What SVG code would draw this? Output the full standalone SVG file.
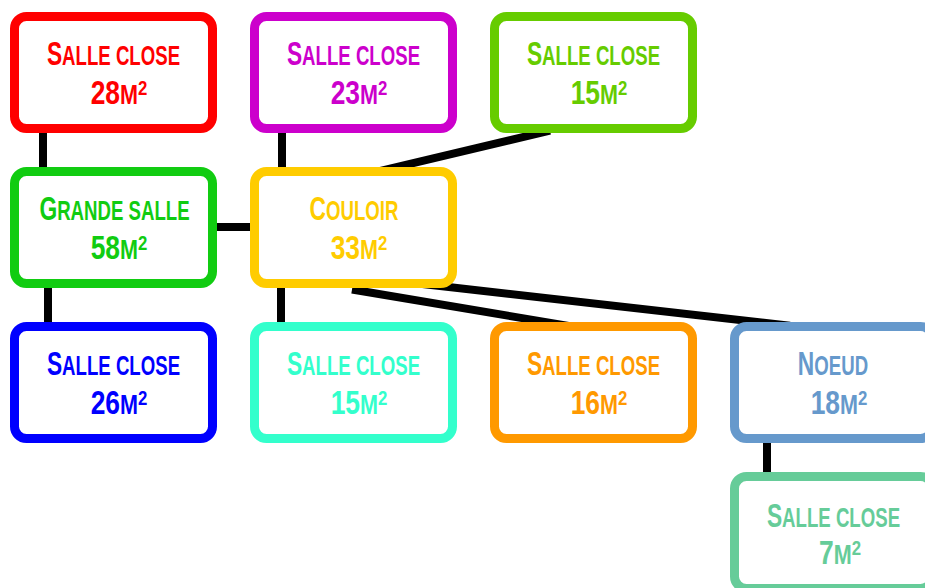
<svg xmlns="http://www.w3.org/2000/svg" width="925" height="588" viewBox="0 0 925 588">
<style>
.box{fill:#fff;stroke-width:9}
.t{font-family:"Liberation Sans",Arial,sans-serif;font-weight:bold;font-size:33px;text-anchor:middle}
.sc{font-size:27px;text-transform:uppercase}
.sup{font-size:21px}
.c line{stroke:#000;stroke-width:8}
</style>
<rect width="925" height="588" fill="#fff"/>
<g class="c" id="connectors">
<line x1="43" y1="125" x2="43" y2="175"/>
<line x1="282" y1="125" x2="282" y2="175"/>
<line x1="370" y1="173.3" x2="550" y2="130.6"/>
<line x1="210" y1="227" x2="258" y2="227"/>
<line x1="48" y1="280" x2="48" y2="330"/>
<line x1="281" y1="280" x2="281" y2="330"/>
<line x1="352" y1="289.5" x2="570" y2="326.1"/>
<line x1="352" y1="276" x2="790" y2="325.7"/>
<line x1="767" y1="435" x2="767" y2="480"/>
</g>
<g id="n1" fill="#ff0000"><rect class="box" x="14.5" y="16.5" width="198" height="112" rx="12" stroke="#ff0000"/>
<text class="t" transform="translate(113.5,65) scale(0.69,1)">S<tspan class="sc">alle close</tspan></text>
<text class="t" transform="translate(119,104) scale(0.8,1)">28<tspan class="sc">m</tspan><tspan class="sup" dy="-9">2</tspan></text></g>
<g id="n2" fill="#cc00cc"><rect class="box" x="254.5" y="16.5" width="198" height="112" rx="12" stroke="#cc00cc"/>
<text class="t" transform="translate(353.5,65) scale(0.69,1)">S<tspan class="sc">alle close</tspan></text>
<text class="t" transform="translate(359,104) scale(0.8,1)">23<tspan class="sc">m</tspan><tspan class="sup" dy="-9">2</tspan></text></g>
<g id="n3" fill="#66cc00"><rect class="box" x="494.5" y="16.5" width="198" height="112" rx="12" stroke="#66cc00"/>
<text class="t" transform="translate(593.5,65) scale(0.69,1)">S<tspan class="sc">alle close</tspan></text>
<text class="t" transform="translate(599,104) scale(0.8,1)">15<tspan class="sc">m</tspan><tspan class="sup" dy="-9">2</tspan></text></g>
<g id="n4" fill="#11cc11"><rect class="box" x="14.5" y="171.5" width="198" height="112" rx="12" stroke="#11cc11"/>
<text class="t" transform="translate(114.5,220) scale(0.69,1)">G<tspan class="sc">rande salle</tspan></text>
<text class="t" transform="translate(119,259) scale(0.8,1)">58<tspan class="sc">m</tspan><tspan class="sup" dy="-9">2</tspan></text></g>
<g id="n5" fill="#ffcc00"><rect class="box" x="254.5" y="171.5" width="198" height="112" rx="12" stroke="#ffcc00"/>
<text class="t" transform="translate(354,220) scale(0.69,1)">C<tspan class="sc">ouloir</tspan></text>
<text class="t" transform="translate(359,259) scale(0.8,1)">33<tspan class="sc">m</tspan><tspan class="sup" dy="-9">2</tspan></text></g>
<g id="n6" fill="#0000ff"><rect class="box" x="14.5" y="326.5" width="198" height="112" rx="12" stroke="#0000ff"/>
<text class="t" transform="translate(113.5,375) scale(0.69,1)">S<tspan class="sc">alle close</tspan></text>
<text class="t" transform="translate(119,414) scale(0.8,1)">26<tspan class="sc">m</tspan><tspan class="sup" dy="-9">2</tspan></text></g>
<g id="n7" fill="#33ffcc"><rect class="box" x="254.5" y="326.5" width="198" height="112" rx="12" stroke="#33ffcc"/>
<text class="t" transform="translate(353.5,375) scale(0.69,1)">S<tspan class="sc">alle close</tspan></text>
<text class="t" transform="translate(359,414) scale(0.8,1)">15<tspan class="sc">m</tspan><tspan class="sup" dy="-9">2</tspan></text></g>
<g id="n8" fill="#ff9900"><rect class="box" x="494.5" y="326.5" width="198" height="112" rx="12" stroke="#ff9900"/>
<text class="t" transform="translate(593.5,375) scale(0.69,1)">S<tspan class="sc">alle close</tspan></text>
<text class="t" transform="translate(599,414) scale(0.8,1)">16<tspan class="sc">m</tspan><tspan class="sup" dy="-9">2</tspan></text></g>
<g id="n9" fill="#6699cc"><rect class="box" x="734.5" y="326.5" width="198" height="112" rx="12" stroke="#6699cc"/>
<text class="t" transform="translate(833,375) scale(0.69,1)">N<tspan class="sc">oeud</tspan></text>
<text class="t" transform="translate(839,414) scale(0.8,1)">18<tspan class="sc">m</tspan><tspan class="sup" dy="-9">2</tspan></text></g>
<g id="n10" fill="#66cc99"><rect class="box" x="734.5" y="476.5" width="198" height="112" rx="12" stroke="#66cc99"/>
<text class="t" transform="translate(833.5,527) scale(0.69,1)">S<tspan class="sc">alle close</tspan></text>
<text class="t" transform="translate(840,564) scale(0.8,1)">7<tspan class="sc">m</tspan><tspan class="sup" dy="-9">2</tspan></text></g>
</svg>
